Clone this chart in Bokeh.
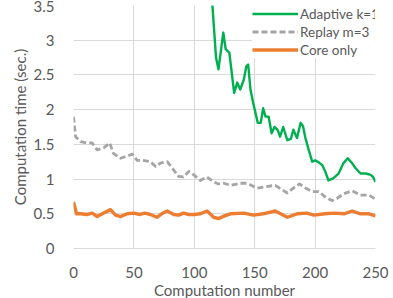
from bokeh.plotting import figure
from bokeh.models import Range1d, Legend, LegendItem, FixedTicker
from bokeh.embed import file_html
from bokeh.resources import INLINE

# ---- data ----
adaptive_x = [113, 118, 120, 124, 126, 129, 133, 135.5, 138, 141, 143, 144.6, 146.5, 148.7,
              150.7, 152.5, 155, 157, 159, 161.5, 164, 166.4, 169, 171, 173.6, 177, 180, 182,
              185, 188, 190, 192, 194.7, 197.6, 200, 203, 206, 208.6, 211, 215, 219.4, 223.5,
              227, 230.6, 233.4, 237.6, 242, 246, 248, 250]
adaptive_y = [4.0, 2.75, 2.58, 3.11, 2.87, 2.82, 2.24, 2.39, 2.29, 2.43, 2.62, 2.65, 2.29, 2.10,
              1.95, 1.81, 1.81, 2.02, 1.90, 1.90, 1.66, 1.75, 1.71, 1.61, 1.75, 1.56, 1.58, 1.71,
              1.59, 1.81, 1.76, 1.59, 1.42, 1.25, 1.27, 1.24, 1.20, 1.10, 0.98, 1.01, 1.08, 1.23,
              1.30, 1.23, 1.16, 1.08, 1.08, 1.06, 1.03, 0.96]

replay_x = [0, 1.7, 5.8, 11, 15.5, 19.6, 25, 30, 33, 39, 44.4, 48.6, 52.7, 57, 63.7, 68, 72,
            77.6, 83, 87, 91, 95.5, 99.6, 105, 110.6, 116, 120, 124.5, 130, 138, 143.8, 152,
            159, 167, 177, 182, 187, 192, 197.6, 203, 208.6, 214, 218, 223.8, 230.6, 237.6,
            244.5, 250]
replay_y = [1.90, 1.61, 1.54, 1.52, 1.52, 1.42, 1.45, 1.52, 1.37, 1.30, 1.33, 1.36, 1.27, 1.27,
            1.25, 1.18, 1.23, 1.25, 1.13, 1.04, 1.03, 1.11, 1.06, 0.98, 1.03, 0.96, 0.93, 0.94,
            0.91, 0.94, 0.94, 0.87, 0.89, 0.91, 0.80, 0.87, 0.93, 0.87, 0.82, 0.82, 0.74, 0.69,
            0.72, 0.79, 0.83, 0.77, 0.77, 0.71]

core_x = [0, 2.5, 6, 11, 15.5, 19.6, 25, 30.6, 34.8, 39, 44.4, 50, 55, 59, 63.7, 69, 73, 77.6,
          83, 87, 91, 95.5, 100, 105, 110.6, 116, 120, 125, 130, 141, 149, 157, 167, 177, 185,
          193, 199, 208, 216, 224, 230.6, 237.6, 244.5, 250]
core_y = [0.67, 0.50, 0.50, 0.49, 0.51, 0.46, 0.51, 0.56, 0.48, 0.46, 0.50, 0.51, 0.49, 0.51,
          0.49, 0.45, 0.50, 0.54, 0.49, 0.48, 0.51, 0.49, 0.49, 0.50, 0.54, 0.45, 0.43, 0.47,
          0.50, 0.51, 0.48, 0.50, 0.54, 0.45, 0.50, 0.51, 0.48, 0.50, 0.51, 0.50, 0.54, 0.50,
          0.50, 0.47]

x_ticks = [0, 50, 100, 150, 200, 250]
y_ticks = [0, 0.5, 1, 1.5, 2, 2.5, 3, 3.5]
x_title = "Computation number"
y_title = "Computation time (sec.)"
series_names = ["Adaptive k=1", "Replay m=3", "Core only"]

FONT = "Lato"
TXT = "#595959"
GRID = "#d9d9d9"
FRAME_H = 243

p = figure(frame_width=302, frame_height=FRAME_H, output_backend="svg", toolbar_location=None,
           x_range=Range1d(0, 250), y_range=Range1d(0, 3.5),
           min_border_left=73, min_border_right=18, min_border_top=5, min_border_bottom=0)
p.outline_line_color = None

r_core = p.line(core_x, core_y, line_color="#ed7d31", line_width=3.4, line_join="round")
r_replay = p.line(replay_x, replay_y, line_color="#a5a5a5", line_width=2.8, line_dash="6 3",
                  line_join="round")
r_adapt = p.line(adaptive_x, adaptive_y, line_color="#00b050", line_width=2.4, line_join="round")

for ax in (p.xaxis[0], p.yaxis[0]):
    ax.major_tick_line_color = None
    ax.minor_tick_line_color = None
    ax.major_label_text_font = FONT
    ax.major_label_text_font_size = "15px"
    ax.major_label_text_color = TXT
    ax.axis_label_text_font = FONT
    ax.axis_label_text_font_size = "15px"
    ax.axis_label_text_color = TXT
    ax.axis_label_text_font_style = "normal"

p.xaxis.ticker = FixedTicker(ticks=x_ticks)
p.yaxis.ticker = FixedTicker(ticks=y_ticks)
p.yaxis.major_label_overrides = {0: "0", 0.5: "0.5", 1: "1", 1.5: "1.5", 2: "2", 2.5: "2.5", 3: "3", 3.5: "3.5"}
p.xaxis.axis_label = x_title
p.yaxis.axis_label = y_title
p.xaxis.axis_line_color = GRID
p.yaxis.axis_line_color = None
p.xaxis.major_label_standoff = 12
p.yaxis.major_label_standoff = 13
p.xaxis.axis_label_standoff = 0
p.yaxis.axis_label_standoff = 2

p.xgrid.grid_line_color = GRID
p.ygrid.grid_line_color = GRID
p.xgrid.ticker = FixedTicker(ticks=x_ticks)
p.ygrid.ticker = FixedTicker(ticks=y_ticks)

# legend location = (left, bottom) in px from the frame's bottom-left corner
legend = Legend(items=[LegendItem(label=series_names[0], renderers=[r_adapt]),
                       LegendItem(label=series_names[1], renderers=[r_replay]),
                       LegendItem(label=series_names[2], renderers=[r_core])],
                location=(179, 190))
legend.background_fill_color = "white"
legend.background_fill_alpha = 1
legend.border_line_color = None
legend.label_text_font = FONT
legend.label_text_font_size = "13.5px"
legend.label_text_color = TXT
legend.glyph_width = 46
legend.glyph_height = 17
legend.label_height = 17
legend.label_standoff = 2
legend.spacing = 1
legend.padding = 3
legend.margin = 0
p.add_layout(legend)

open("out.html", "w").write(file_html(p, INLINE))
